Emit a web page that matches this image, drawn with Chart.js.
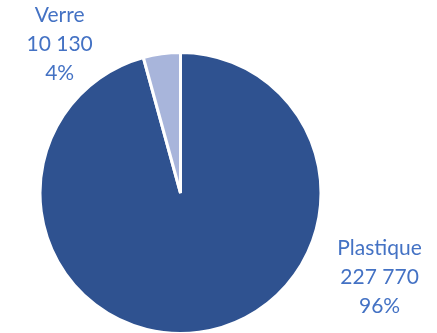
<!DOCTYPE html>
<html>
<head>
<meta charset="utf-8">
<script src="https://cdn.jsdelivr.net/npm/chart.js@4"></script>
<style>
  html, body { margin: 0; padding: 0; background: #ffffff; overflow: hidden; }
  #wrap { width: 437px; height: 333px; overflow: hidden; }
  canvas { display: block; }
</style>
</head>
<body>
<div id="wrap"><canvas id="c" width="437" height="335"></canvas></div>
<script>
// Tonnages by material
const categories = ['Plastique', 'Verre'];
const tonnages = [227770, 10130];
const sliceColors = ['#2F5290', '#A8B5DB'];

// Label anchors, as multiples of the pie radius from its centre
const labelAnchors = [[1.402, 0.591], [-0.851, -1.05]];

const fmt = v => String(v).replace(/\B(?=(\d{3})+(?!\d))/g, ' ');

const outsideLabels = {
  id: 'outsideLabels',
  afterDatasetsDraw(chart) {
    const ctx = chart.ctx;
    const meta = chart.getDatasetMeta(0);
    const data = chart.data.datasets[0].data;
    const total = data.reduce((a, b) => a + b, 0);
    ctx.save();
    ctx.fillStyle = '#4472C4';
    ctx.font = '21px Lato, "Liberation Sans", sans-serif';
    ctx.textAlign = 'center';
    ctx.textBaseline = 'middle';
    meta.data.forEach((arc, i) => {
      const { x, y, outerRadius } = arc.getProps(['x', 'y', 'outerRadius'], true);
      const r = outerRadius + 1.5;
      const lx = x + labelAnchors[i][0] * r;
      const ly = y + labelAnchors[i][1] * r;
      const lines = [
        chart.data.labels[i],
        fmt(data[i]),
        Math.round(data[i] / total * 100) + '%'
      ];
      const lh = 29;
      lines.forEach((t, k) => ctx.fillText(t, lx, ly + (k - 1) * lh));
    });
    ctx.restore();
  }
};

new Chart(document.getElementById('c'), {
  type: 'pie',
  data: {
    labels: categories,
    datasets: [{
      data: tonnages,
      backgroundColor: sliceColors,
      borderColor: '#ffffff',
      borderWidth: 3
    }]
  },
  options: {
    responsive: false,
    animation: false,
    layout: { padding: { left: 38.5, right: 114.5, top: 51, bottom: 0 } },
    plugins: { legend: { display: false }, tooltip: { enabled: false } }
  },
  plugins: [outsideLabels]
});
</script>
</body>
</html>
